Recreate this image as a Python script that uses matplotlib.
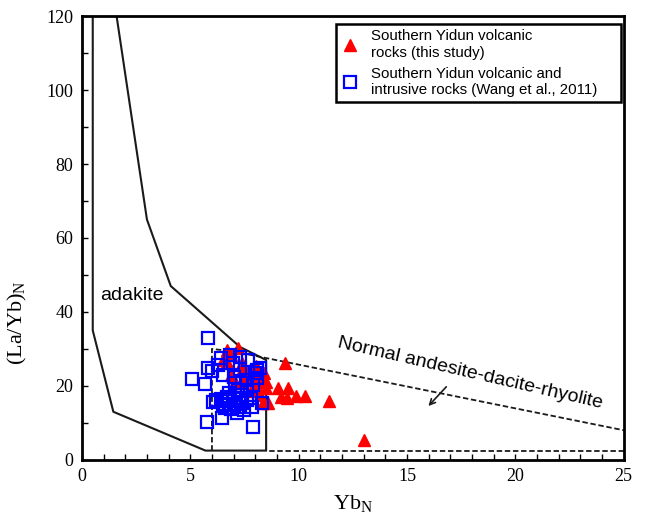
import numpy as np
import matplotlib
matplotlib.use('Agg')
import matplotlib.pyplot as plt

# Southern Yidun volcanic rocks (this study): Yb_N, (La/Yb)_N
red_yb = [6.7, 7.2, 6.9, 7.4, 6.5, 6.7, 7.75, 7.4, 8.05, 8.2, 8.4, 8.5, 8.5, 9.04,
          9.5, 9.2, 9.45, 9.9, 10.3, 11.4, 13.0, 9.36, 8.6, 8.35, 7.05, 7.4, 8.07,
          8.2, 7.6, 6.9, 7.8, 8.0]
red_layb = [29.7, 30.3, 28.4, 26.2, 27.0, 26.5, 24.3, 24.3, 25.5, 22.4, 23.5, 21.0,
            19.5, 19.5, 19.5, 17.0, 16.8, 17.2, 17.3, 15.9, 5.4, 26.2, 15.4, 15.4,
            21.0, 20.8, 19.7, 17.6, 22.0, 23.0, 18.5, 21.5]

# Southern Yidun volcanic and intrusive rocks (Wang et al., 2011)
blue_yb = [5.8, 5.07, 5.67, 5.81, 5.77, 6.46, 7.9, 7.15, 6.04, 6.27, 6.83, 7.3,
           7.65, 8.1, 6.96, 8.2, 7.98, 7.05, 7.4, 7.9, 8.3, 7.85, 6.0, 6.5, 7.3,
           7.0, 7.6, 8.1, 7.2, 7.6, 6.4, 6.7, 7.0, 7.3, 7.6, 6.5, 6.8, 7.1, 7.4,
           6.6, 6.9, 7.2, 7.5, 6.7, 7.0, 6.2, 7.8, 6.8, 7.4, 6.4]
blue_layb = [33.0, 21.9, 20.5, 24.9, 10.2, 11.3, 8.9, 12.7, 15.7, 25.7, 28.4, 27.8,
             27.0, 24.3, 26.2, 24.8, 23.5, 20.8, 20.8, 20.3, 15.4, 14.3, 24.0, 23.0,
             24.5, 22.5, 21.5, 22.0, 19.0, 18.8, 16.5, 17.0, 16.5, 16.8, 16.2, 15.0,
             15.2, 15.0, 15.4, 14.0, 13.8, 14.2, 13.6, 16.0, 14.8, 16.2, 16.8, 18.2,
             17.5, 27.5]

# field boundaries
adakite_x = [0.5, 0.5, 1.45, 5.7, 8.5, 8.5, 7.3, 4.1, 3.0, 1.6]
adakite_y = [120, 35, 13, 2.5, 2.5, 27, 30.5, 47, 65, 120]
adr_x = [25, 8.5]
adr_y = [2.5, 2.5]
adr2_x = [6, 6, 7, 25]
adr2_y = [2.5, 30, 29.3, 8]

plt.rcParams['font.family'] = 'Liberation Serif'

fig = plt.figure(figsize=(6.45, 5.19), dpi=100)
ax = fig.add_axes([0.127, 0.114, 0.840, 0.855])

ax.plot(adakite_x, adakite_y, color='#1a1a1a', lw=1.5, zorder=2)
ax.plot(adr_x, adr_y, color='#1a1a1a', lw=1.3, ls=(0, (3, 1.5)), zorder=2)
ax.plot(adr2_x, adr2_y, color='#1a1a1a', lw=1.3, ls=(0, (3, 1.5)), zorder=2)

ax.plot(red_yb, red_layb, ls='none', marker='^', ms=8, color='#ff0000',
        mec='#ff0000', label='Southern Yidun volcanic\nrocks (this study)', zorder=3)
ax.plot(blue_yb, blue_layb, ls='none', marker='s', ms=8.5, mfc='none', mec='#0000ff',
        mew=1.6, label='Southern Yidun volcanic and\nintrusive rocks (Wang et al., 2011)',
        zorder=4)

ax.text(2.3, 44.5, 'adakite', family='Liberation Sans', fontsize=14,
        ha='center', va='center')
ax.text(17.9, 23.3, 'Normal andesite-dacite-rhyolite', family='Liberation Sans',
        fontsize=14, ha='center', va='center', rotation=-13)
ax.annotate('', xy=(15.9, 14.0), xytext=(16.9, 20.3),
            arrowprops=dict(arrowstyle='->', color='#1a1a1a', lw=1.2))

ax.set_xlim(0, 25)
ax.set_ylim(0, 120)
ax.set_xticks(np.arange(0, 26, 5))
ax.set_xticks(np.arange(0, 26, 1), minor=True)
ax.set_yticks(np.arange(0, 121, 20))
ax.set_yticks(np.arange(0, 121, 10), minor=True)
ax.tick_params(which='both', direction='in', length=4, width=1, labelsize=13,
               top=False, right=False, pad=6)
for s in ax.spines.values():
    s.set_linewidth(2)

ax.set_xlabel(r'Yb$_\mathregular{N}$', fontsize=16, labelpad=6)
ax.set_ylabel(r'(La/Yb)$_\mathregular{N}$', fontsize=16)
ax.yaxis.set_label_coords(-0.098, 0.31)

leg = ax.legend(loc='upper left', bbox_to_anchor=(0.469, 0.982, 0.526, 0.0),
                mode='expand', borderaxespad=0, fancybox=False, edgecolor='black',
                framealpha=1, handletextpad=0.8, handlelength=1.2, labelspacing=0.5,
                borderpad=0.35, prop={'family': 'Liberation Sans', 'size': 10.8})
leg.get_frame().set_linewidth(1.8)

fig.savefig('out.png', dpi=100)
